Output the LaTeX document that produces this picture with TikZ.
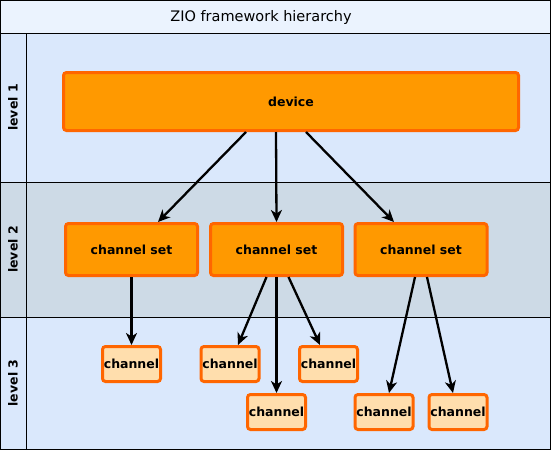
\documentclass[tikz,border=0pt]{standalone}
\usepackage{fontspec}
\setmainfont{DejaVu Sans}
\usetikzlibrary{arrows.meta}
\definecolor{titleblue}{HTML}{EBF3FE}
\definecolor{laneblue}{HTML}{DAE8FC}
\definecolor{lanegrey}{HTML}{CDDAE6}
\definecolor{boxorange}{HTML}{FF9900}
\definecolor{boxline}{HTML}{FF6600}
\definecolor{chanfill}{HTML}{FFDEAD}
\tikzset{
  lane/.style={draw=black,line width=1pt},
  lanelabel/.style={rotate=90,font=\bfseries\fontsize{12.5}{14}\selectfont},
  devbox/.style={draw=boxline,fill=boxorange,line width=3pt,rounded corners=3pt,
    minimum width=455pt,minimum height=58pt,inner sep=0pt,font=\bfseries\fontsize{12.5}{14}\selectfont},
  setbox/.style={devbox,minimum width=132pt,minimum height=52pt},
  chanbox/.style={devbox,fill=chanfill,minimum width=58pt,minimum height=35pt},
  link/.style={-{Stealth[length=12pt,width=11pt,inset=3.5pt]},line width=2.3pt}
}
\begin{document}
\begin{tikzpicture}[x=1pt,y=-1pt]
	  \useasboundingbox (0,0) rectangle (551,450);
	  % bands
	  \draw[lane,fill=titleblue] (0.5,0.5) rectangle (550.5,33);
	  \draw[lane,fill=laneblue] (0.5,33) rectangle (550.5,182);
	  \draw[lane,fill=lanegrey] (0.5,182) rectangle (550.5,317);
	  \draw[lane,fill=laneblue] (0.5,317) rectangle (550.5,449.5);
	  \draw[lane] (26,33) -- (26,449.5);
	  \node (title) at (261,17) {\fontsize{14.5}{16}\selectfont ZIO framework hierarchy};
	  \node[lanelabel] (lv1) at (13,107.5) {level 1};
	  \node[lanelabel] (lv2) at (13,249.5) {level 2};
	  \node[lanelabel] (lv3) at (13,383) {level 3};
	  % boxes
	  \node[devbox] (dev) at (291,101.5) {device};
	  \node[setbox] (cs1) at (131.5,249.5) {channel set};
	  \node[setbox] (cs2) at (276.5,249.5) {channel set};
	  \node[setbox] (cs3) at (421,249.5) {channel set};
	  \node[chanbox] (ch1) at (131.5,364) {channel};
	  \node[chanbox] (ch2) at (230,364) {channel};
	  \node[chanbox] (ch3) at (328.5,364) {channel};
	  \node[chanbox] (ch4) at (276.5,412) {channel};
	  \node[chanbox] (ch5) at (384,412) {channel};
	  \node[chanbox] (ch6) at (458,412) {channel};
	  % arrows
	  \draw[link] ([xshift=-45pt]dev.south) -- ([xshift=26.5pt]cs1.north);
	  \draw[link] ([xshift=-15pt]dev.south) -- (cs2.north);
	  \draw[link] ([xshift=15pt]dev.south) -- ([xshift=-27pt]cs3.north);
	  \draw[link] (cs1.south) -- (ch1.north);
	  \draw[link] ([xshift=-10pt]cs2.south) -- ([xshift=8pt]ch2.north);
	  \draw[link] (cs2.south) -- (ch4.north);
	  \draw[link] ([xshift=12pt]cs2.south) -- ([xshift=-8.5pt]ch3.north);
	  \draw[link] ([xshift=-6pt]cs3.south) -- ([xshift=5pt]ch5.north);
	  \draw[link] ([xshift=6pt]cs3.south) -- ([xshift=-5pt]ch6.north);
\end{tikzpicture}
\end{document}
